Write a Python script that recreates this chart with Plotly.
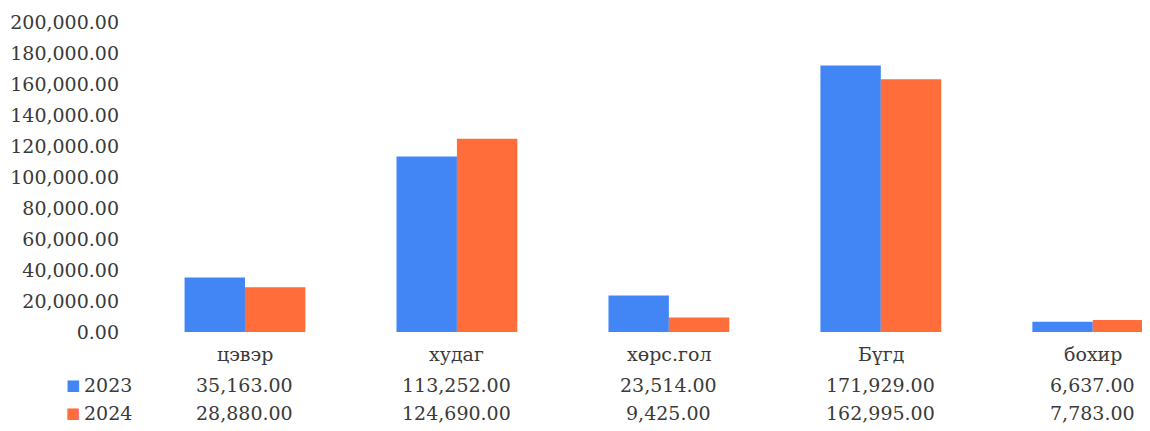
import plotly.graph_objects as go

categories = ["цэвэр", "худаг", "хөрс.гол", "Бүгд", "бохир"]
series_names = ["2023", "2024"]
values_2023 = [35163, 113252, 23514, 171929, 6637]
values_2024 = [28880, 124690, 9425, 162995, 7783]
y_ticks = [0, 20000, 40000, 60000, 80000, 100000, 120000, 140000, 160000, 180000, 200000]

colors = ["#4285f4", "#ff6d3a"]
FONT = "DejaVu Serif"
TXT = "#3a3a3a"
FS = 19

OFF = 8
plot_left, plot_right = 139 - OFF, 1150 - OFF
plot_w = plot_right - plot_left
fig_w, fig_h = 1150 - OFF, 431 - OFF

fig = go.Figure()
for name, vals, c in zip(series_names, [values_2023, values_2024], colors):
    fig.add_trace(go.Bar(x=list(range(len(categories))), y=vals, name=name,
                         marker=dict(color=c, line=dict(width=0))))

def py(pix):
    return (332 - pix) / 310.0

ann = []
for i, cat in enumerate(categories):
    ann.append(dict(x=i, y=py(354), xref="x", yref="paper", text=cat, showarrow=False,
                    yanchor="middle", xanchor="center", font=dict(family=FONT, size=FS, color=TXT)))
rows_y = [py(385), py(413)]
for r, (name, vals, c) in enumerate(zip(series_names, [values_2023, values_2024], colors)):
    for i, v in enumerate(vals):
        ann.append(dict(x=i, y=rows_y[r], xref="x", yref="paper", text=f"{v:,.2f}", showarrow=False,
                        yanchor="middle", xanchor="center", font=dict(family=FONT, size=FS, color=TXT)))
    ann.append(dict(x=(82 - OFF - plot_left) / plot_w, y=rows_y[r], xref="paper", yref="paper",
                    text=name, showarrow=False, yanchor="middle", xanchor="left",
                    font=dict(family=FONT, size=FS, color=TXT)))
    ann.append(dict(x=(73 - OFF - plot_left) / plot_w, y=rows_y[r], xref="paper", yref="paper",
                    text="■", showarrow=False, yanchor="middle", xanchor="center",
                    font=dict(family="DejaVu Sans", size=15, color=c)))

fig.update_layout(
    width=fig_w, height=fig_h,
    margin=dict(l=plot_left, r=0, t=22 - OFF, b=fig_h - (332 - OFF), pad=0, autoexpand=False),
    paper_bgcolor="white", plot_bgcolor="white",
    barmode="group", bargap=0.43, bargroupgap=0,
    showlegend=False,
    annotations=ann,
    xaxis=dict(range=[-0.5, 4.27], showticklabels=False, showgrid=False, zeroline=False,
               showline=False, ticks="", automargin=False),
    yaxis=dict(range=[0, 200000], tickvals=y_ticks, tickformat=",.2f", showgrid=False,
               zeroline=False, showline=False, ticks="", ticklabelstandoff=19, automargin=False,
               tickfont=dict(family=FONT, size=FS, color=TXT)),
)
fig.write_html("out.html")
